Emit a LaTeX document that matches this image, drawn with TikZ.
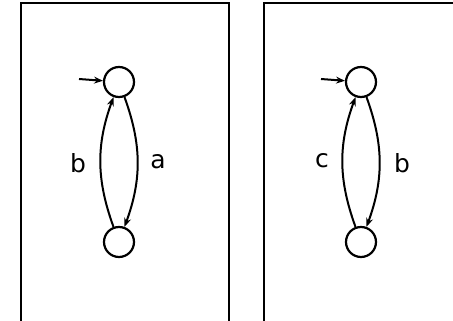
\documentclass[tikz,border=0pt]{standalone}
\usepackage{fontspec}
\setmainfont{DejaVu Sans}
\usetikzlibrary{arrows.meta}
\begin{document}
\begin{tikzpicture}[x=1pt,y=1pt,
  state/.style={draw,circle,line width=2.2pt,minimum size=30pt,inner sep=0pt},
  frame/.style={draw,line width=2.6pt},
  edge/.style={line width=2pt,-{Stealth[length=9pt,width=7pt,inset=3pt]}},
  lbl/.style={font=\fontsize{25}{29}\selectfont,inner sep=0pt}]
\useasboundingbox (0,0) rectangle (453,321);
\clip (0,0) rectangle (453,321);
\draw[frame] (21,318) rectangle (229,-20);
\draw[frame] (264,318) rectangle (480,-20);
% left automaton
\node[state] (t1) at (119,239) {};
\node[state] (b1) at (119,79) {};
\coordinate (i1) at (79,242);
\draw[edge] (i1) -- (t1);
\draw[edge] (t1) to[bend left=20] (b1);
\draw[edge] (b1) to[bend left=20] (t1);
\node[lbl] (lb1) at (78,158) {b};
\node[lbl] (la1) at (158,159) {a};
% right automaton
\node[state] (t2) at (361,239) {};
\node[state] (b2) at (361,79) {};
\coordinate (i2) at (321,242);
\draw[edge] (i2) -- (t2);
\draw[edge] (t2) to[bend left=20] (b2);
\draw[edge] (b2) to[bend left=20] (t2);
\node[lbl] (lc2) at (322,160) {c};
\node[lbl] (lb2) at (402,158) {b};
\end{tikzpicture}
\end{document}
